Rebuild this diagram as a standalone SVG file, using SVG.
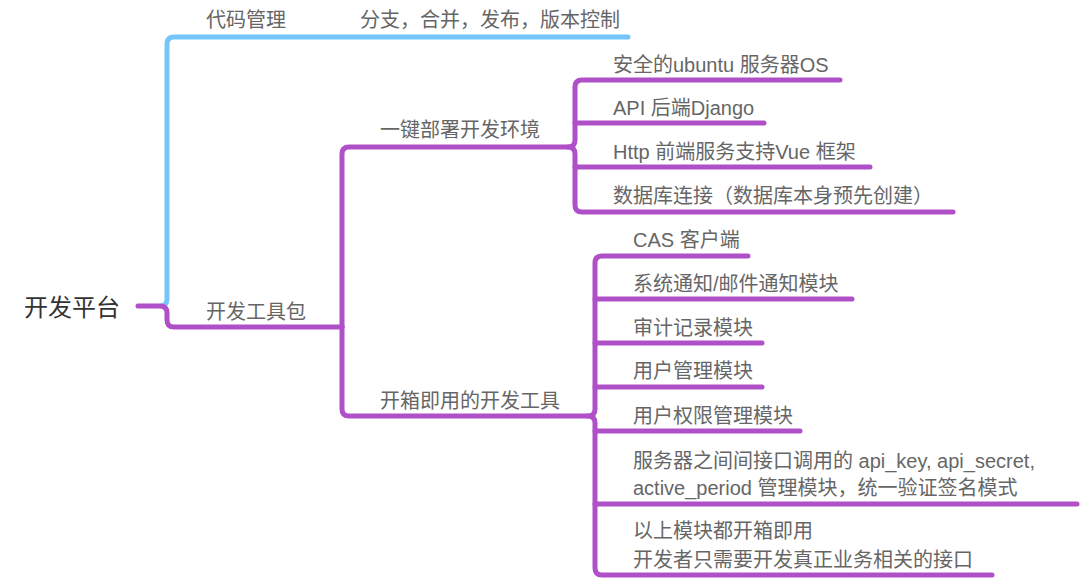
<svg xmlns="http://www.w3.org/2000/svg" width="1080" height="581" viewBox="0 0 1080 581">
<style>
.t{font-family:"Liberation Sans","Noto Sans CJK SC",sans-serif;font-size:20px;fill:#666}
.root{font-family:"Liberation Sans","Noto Sans CJK SC",sans-serif;font-size:24px;fill:#333}
.p{fill:none;stroke:#B050C8;stroke-width:5;stroke-linecap:round;stroke-linejoin:round}
.b{fill:none;stroke:#74C6FA;stroke-width:5;stroke-linecap:round;stroke-linejoin:round}
</style>
<rect width="1080" height="581" fill="#fff"/>
<g id="connectors">
<path class="b" d="M160,306 Q167,306 167,299 L167,44 Q167,37 174,37 L628,37"/>
<path class="p" d="M138,306 L160,306 Q167,306 167,313 L167,320 Q167,327 174,327 L342,327"/>
<path class="p" d="M342,327 L342,154 Q342,147 349,147 L568,147 Q575,147 575,140 L575,87 Q575,80 582,80 L840,80"/>
<path class="p" d="M568,147 Q575,147 575,154 L575,205 Q575,212 582,212 L953,212"/>
<path class="p" d="M575,123 L764,123"/>
<path class="p" d="M575,167 L870,167"/>
<path class="p" d="M342,327 L342,409 Q342,416 349,416 L588,416 Q595,416 595,409 L595,263 Q595,256 602,256 L748,256"/>
<path class="p" d="M588,416 Q595,416 595,423 L595,568 Q595,575 602,575 L992,575"/>
<path class="p" d="M595,299 L852,299"/>
<path class="p" d="M595,343 L762,343"/>
<path class="p" d="M595,387 L762,387"/>
<path class="p" d="M595,431 L800,431"/>
<path class="p" d="M595,504 L1077,504"/>
</g>
<g id="root"><text class="root" x="24" y="316">开发平台</text></g>
<g id="code"><text class="t" x="206" y="27">代码管理</text></g>
<g id="code-detail"><text class="t" x="360" y="27">分支，合并，发布，版本控制</text></g>
<g id="toolkit"><text class="t" x="206" y="319">开发工具包</text></g>
<g id="deploy"><text class="t" x="380" y="137">一键部署开发环境</text></g>
<g id="d1"><text class="t" x="613" y="72">安全的ubuntu 服务器OS</text></g>
<g id="d2"><text class="t" x="613" y="115">API 后端Django</text></g>
<g id="d3"><text class="t" x="613" y="159">Http 前端服务支持Vue 框架</text></g>
<g id="d4"><text class="t" x="613" y="203">数据库连接（数据库本身预先创建）</text></g>
<g id="tools"><text class="t" x="380" y="408">开箱即用的开发工具</text></g>
<g id="m1"><text class="t" x="633" y="247">CAS 客户端</text></g>
<g id="m2"><text class="t" x="633" y="291">系统通知/邮件通知模块</text></g>
<g id="m3"><text class="t" x="633" y="335">审计记录模块</text></g>
<g id="m4"><text class="t" x="633" y="378">用户管理模块</text></g>
<g id="m5"><text class="t" x="633" y="423">用户权限管理模块</text></g>
<g id="m6"><text class="t" x="633" y="468">服务器之间间接口调用的 api_key, api_secret,</text><text class="t" x="633" y="495">active_period 管理模块，统一验证签名模式</text></g>
<g id="m7"><text class="t" x="633" y="538">以上模块都开箱即用</text><text class="t" x="633" y="567">开发者只需要开发真正业务相关的接口</text></g>
</svg>
